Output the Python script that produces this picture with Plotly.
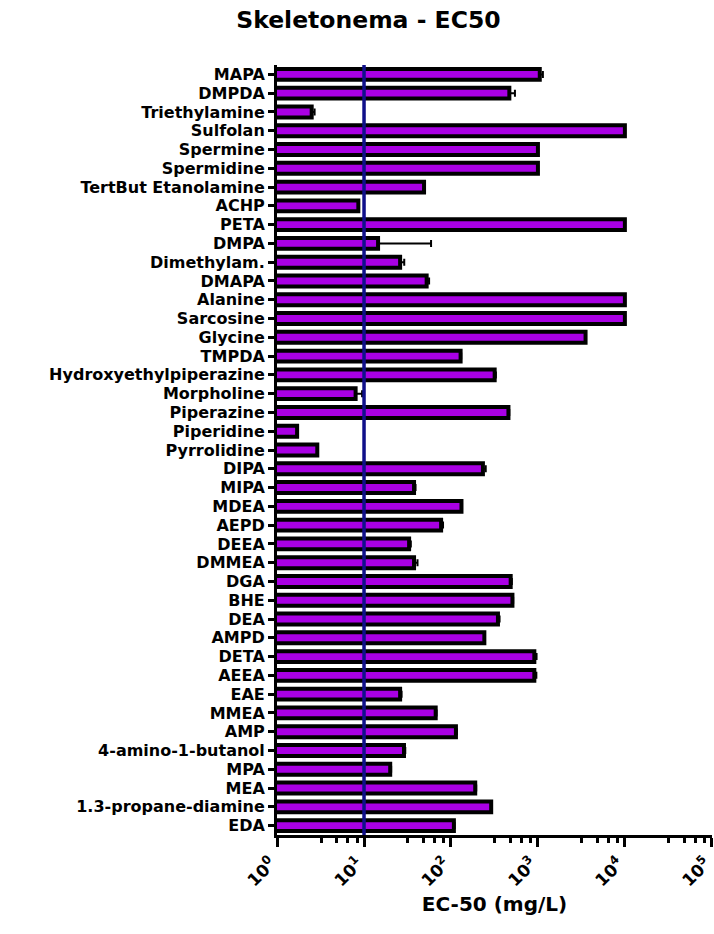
import numpy as np
import plotly.graph_objects as go

# Compounds, listed top to bottom
compounds = [
    "MAPA", "DMPDA", "Triethylamine", "Sulfolan", "Spermine", "Spermidine",
    "TertBut Etanolamine", "ACHP", "PETA", "DMPA", "Dimethylam.", "DMAPA",
    "Alanine", "Sarcosine", "Glycine", "TMPDA", "Hydroxyethylpiperazine",
    "Morpholine", "Piperazine", "Piperidine", "Pyrrolidine", "DIPA", "MIPA",
    "MDEA", "AEPD", "DEEA", "DMMEA", "DGA", "BHE", "DEA", "AMPD", "DETA",
    "AEEA", "EAE", "MMEA", "AMP", "4-amino-1-butanol", "MPA", "MEA",
    "1.3-propane-diamine", "EDA",
]

# EC50 (mg/L)
ec50 = [
    1050, 469, 2.5, 10000, 1000, 1000,
    49, 8.6, 10000, 14.5, 26, 52.5,
    10000, 10000, 3530, 129, 318,
    8.0, 458, 1.7, 2.9, 233, 37.6,
    132, 77, 33, 37.6, 486, 509, 347, 242, 909,
    909, 26, 66.7, 114, 28.8, 20, 190,
    290, 108,
]

# Upper error (mg/L)
ec50_err = [
    90, 75, 0.2, 0, 0, 0,
    1, 0, 0, 44.5, 3, 3.5,
    0, 0, 0, 2, 10,
    1.5, 10, 0, 0, 18, 1.5,
    2, 4, 1.5, 3.6, 15, 10, 15, 4, 55,
    50, 1, 1.5, 3, 1, 0.5, 5,
    5, 2,
]

# Reference concentration marked by the vertical line (mg/L)
threshold = 10

# Log-axis ticks
major_ticks = [1, 10, 100, 1000, 10000, 100000]
major_labels = ["10<sup>0</sup>", "10<sup>1</sup>", "10<sup>2</sup>",
                "10<sup>3</sup>", "10<sup>4</sup>", "10<sup>5</sup>"]
minor_steps = [3.2, 4.8, 6.5, 8.3]
minor_ticks = [d * s for d in major_ticks[:-1] for s in minor_steps]

FONT = "DejaVu Sans, Liberation Sans, Arial, sans-serif"
n = len(compounds)

fig = go.Figure()
fig.add_trace(go.Bar(
    y=compounds,
    x=ec50,
    orientation="h",
    width=0.58,
    marker=dict(color="#A900E4", line=dict(color="black", width=4)),
    error_x=dict(
        type="data", symmetric=False,
        array=ec50_err, arrayminus=[0] * n,
        color="black", thickness=2, width=3.5,
    ),
    showlegend=False,
))

# Vertical reference line, on an overlaid 0-1 axis so it spans the full height
fig.add_trace(go.Scatter(
    x=[threshold, threshold], y=[0, 1], yaxis="y2",
    mode="lines", line=dict(color="#10108A", width=3.5),
    showlegend=False, hoverinfo="skip",
))

fig.update_layout(
    width=714, height=934,
    margin=dict(l=277, r=2, t=65, b=99, autoexpand=False),
    paper_bgcolor="white", plot_bgcolor="white",
    font=dict(family=FONT, color="black"),
    title=dict(
        text="Skeletonema - EC50", xref="container", x=0.516, xanchor="center",
        y=0.979, yanchor="middle",
        font=dict(family=FONT, size=23.5, weight="bold", color="black"),
    ),
    yaxis2=dict(overlaying="y", range=[0, 1], visible=False, fixedrange=True),
)

fig.update_xaxes(
    type="log", range=[-0.001, 5.002], automargin=False,
    tickmode="array", tickvals=major_ticks, ticktext=major_labels,
    tickangle=-45, ticklabeloverflow="allow", ticklabelshift=-6,
    tickfont=dict(family=FONT, size=17, weight="bold", color="black"),
    ticks="outside", ticklen=9, tickwidth=3, tickcolor="black",
    minor=dict(tickmode="array", tickvals=minor_ticks, ticks="outside",
               ticklen=5, tickwidth=3, tickcolor="black", showgrid=False),
    showline=True, linecolor="black", linewidth=3,
    showgrid=False, zeroline=False,
    title=dict(text="EC-50 (mg/L)", standoff=8,
               font=dict(family=FONT, size=20, weight="bold", color="black")),
)

fig.layout.yaxis.update(
    type="category", categoryorder="array", categoryarray=compounds,
    tickmode="array", tickvals=compounds, ticktext=compounds,
    range=[n - 0.5, -0.5], automargin=False,
    tickfont=dict(family=FONT, size=16, weight="bold", color="black"),
    ticks="outside", ticklen=6, tickwidth=3, tickcolor="black",
    showline=True, linecolor="black", linewidth=3,
    showgrid=False, zeroline=False,
)

fig.write_html("out.html")
